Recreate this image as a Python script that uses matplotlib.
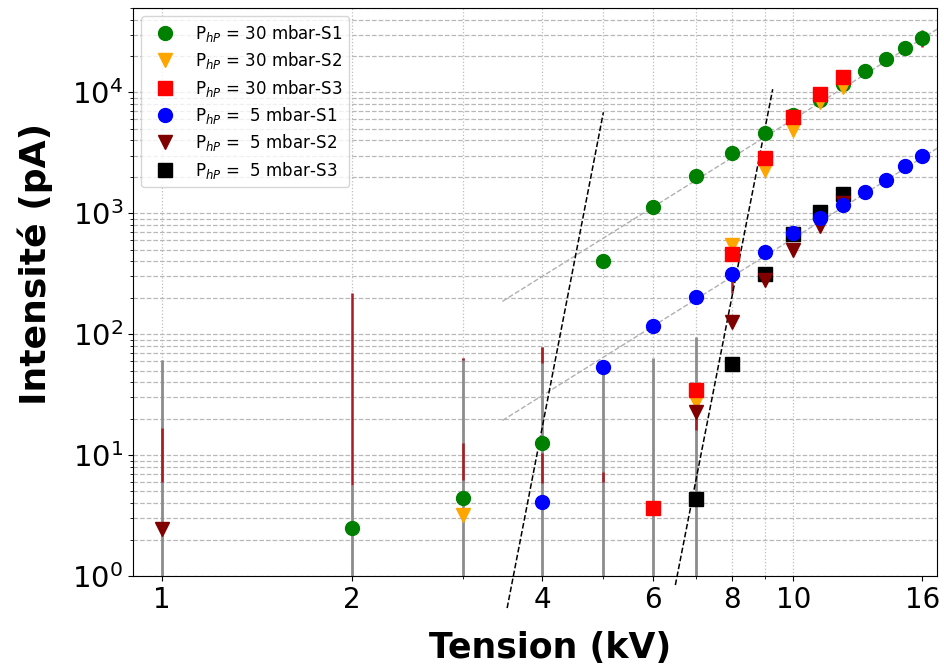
import numpy as np
import matplotlib
matplotlib.use('Agg')
import matplotlib.pyplot as plt
from matplotlib.ticker import FixedLocator, FixedFormatter, NullFormatter

# P = 30 mbar
x_30_s1 = [2, 3, 4, 5, 6, 7, 8, 9, 10, 11, 12, 13, 14, 15, 16]
y_30_s1 = [2.5, 4.45, 12.7, 400, 1130, 2030, 3170, 4640, 6500, 8700, 11650, 15000, 18800, 23100, 28000]
x_30_s2 = [3, 7, 8, 9, 10, 11, 12]
y_30_s2 = [3.2, 27.5, 550, 2300, 4900, 8300, 11000]
x_30_s3 = [6, 7, 8, 9, 10, 11, 12]
y_30_s3 = [3.66, 34.7, 457, 2840, 6200, 9600, 13300]

# P = 5 mbar
x_5_s1 = [4, 5, 6, 7, 8, 9, 10, 11, 12, 13, 14, 15, 16]
y_5_s1 = [4.1, 54, 117, 204, 316, 480, 690, 920, 1180, 1490, 1880, 2450, 2970]
x_5_s2 = [1, 7, 8, 9, 10, 11, 12]
y_5_s2 = [2.45, 22.8, 127, 283, 500, 780, 1220]
x_5_s3 = [7, 8, 9, 10, 11, 12]
y_5_s3 = [4.35, 57, 316, 680, 1030, 1430]

# error bars (low, high)
err_grey_x = [1, 2, 3, 4, 5, 6, 7]
err_grey_lo = [0.1, 0.1, 0.1, 0.1, 0.1, 0.1, 0.1]
err_grey_hi = [61, 5.7, 64, 79, 54, 64, 94]
err_red_x = [1, 2, 3, 3, 4, 4, 5, 7, 8, 16]
err_red_lo = [6.0, 5.7, 6.2, 61, 5.9, 58, 6.0, 16.2, 220, 23500]
err_red_hi = [16.8, 220, 12.6, 64, 10.4, 79, 7.3, 22.4, 300, 33000]

# power-law fits  I = I0 * (V / V0)**n  on [Va, Vb]
fit_slow = [(1130, 6, 3.27, 3.46, 17.0), (117, 6, 3.27, 3.46, 17.0)]
fit_steep = [(0.543, 3.52, 26.9, 3.52, 5.0), (0.842, 6.5, 26.6, 6.5, 9.27)]

xtick_vals = [1, 2, 4, 6, 8, 10, 16]
xtick_minor = [3, 5, 7, 9]

fig = plt.figure(figsize=(9.44, 6.70), dpi=100)
ax = fig.add_axes([0.141, 0.1403, 0.852, 0.848])
ax.set_xscale('log')
ax.set_yscale('log')

ax.vlines(err_grey_x, err_grey_lo, err_grey_hi, color='#8c8c8c', lw=2.0, zorder=2)
ax.vlines(err_red_x, err_red_lo, err_red_hi, color='#a81c24', lw=1.8, zorder=2.1)

for I0, V0, n, a, b in fit_slow:
    v = np.linspace(a, b, 50)
    ax.plot(v, I0 * (v / V0) ** n, ls='--', color='#b0b0b0', lw=1.0, zorder=2.2)
for I0, V0, n, a, b in fit_steep:
    v = np.linspace(a, b, 50)
    ax.plot(v, I0 * (v / V0) ** n, ls='--', color='black', lw=1.1, zorder=2.2, clip_on=False)

ms = 10
h1, = ax.plot(x_30_s1, y_30_s1, 'o', color='green', ms=ms, ls='none', zorder=3)
h2, = ax.plot(x_30_s2, y_30_s2, 'v', color='orange', ms=ms, ls='none', zorder=3)
h3, = ax.plot(x_30_s3, y_30_s3, 's', color='red', ms=ms, ls='none', zorder=3)
h6, = ax.plot(x_5_s3, y_5_s3, 's', color='black', ms=ms, ls='none', zorder=3)
h5, = ax.plot(x_5_s2, y_5_s2, 'v', color='#800000', ms=ms, ls='none', zorder=3)
h4, = ax.plot(x_5_s1, y_5_s1, 'o', color='blue', ms=ms, ls='none', zorder=3)

labels = [r'P$_{hP}$ = 30 mbar-S1', r'P$_{hP}$ = 30 mbar-S2', r'P$_{hP}$ = 30 mbar-S3',
          r'P$_{hP}$ =  5 mbar-S1', r'P$_{hP}$ =  5 mbar-S2', r'P$_{hP}$ =  5 mbar-S3']
ax.legend([h1, h2, h3, h4, h5, h6], labels, loc='upper left', fontsize=12,
          borderaxespad=0.5, handletextpad=0.8, labelspacing=0.38)

ax.set_xlim(0.9, 16.9)
ax.set_ylim(1, 5e4)
ax.xaxis.set_major_locator(FixedLocator(xtick_vals))
ax.xaxis.set_major_formatter(FixedFormatter([str(v) for v in xtick_vals]))
ax.xaxis.set_minor_locator(FixedLocator(xtick_minor))
ax.xaxis.set_minor_formatter(NullFormatter())

ax.tick_params(axis='both', which='major', labelsize=21)
ax.tick_params(axis='x', which='major', labelsize=20)
ax.xaxis.grid(True, which='both', ls=':', color='#bdbdbd', lw=0.9)
ax.yaxis.grid(True, which='both', ls='--', color='#b8b8b8', lw=0.9)
ax.set_axisbelow(True)
ax.get_xgridlines()[-1].set_visible(False)

ax.set_xlabel('Tension (kV)', fontsize=25, fontweight='bold')
ax.set_ylabel('Intensité (pA)', fontsize=26, fontweight='bold')
ax.xaxis.set_label_coords(0.519, -0.097)
ax.yaxis.set_label_coords(-0.10, 0.55)

fig.savefig('out.png', dpi=100)
